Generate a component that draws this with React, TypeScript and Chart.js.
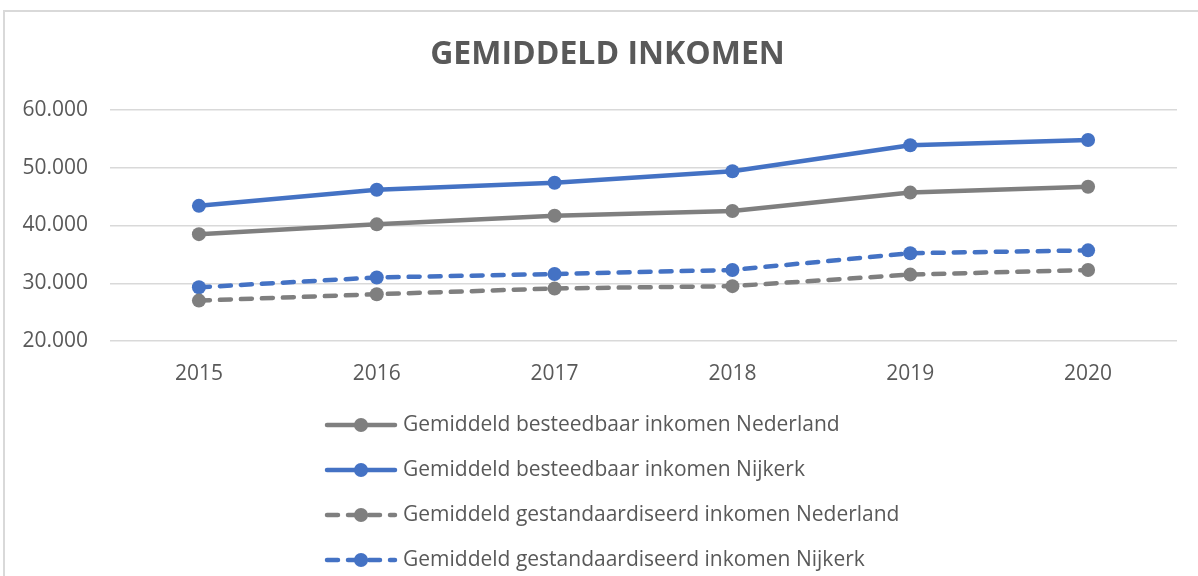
import React, { useEffect, useRef } from "react";
import { Chart, registerables } from "chart.js";

Chart.register(...registerables);

const years = ["2015", "2016", "2017", "2018", "2019", "2020"];
const besteedbaarNederland = [38500, 40200, 41700, 42500, 45700, 46700];
const besteedbaarNijkerk = [43400, 46200, 47400, 49400, 53900, 54800];
const gestandaardiseerdNederland = [27000, 28100, 29100, 29500, 31500, 32300];
const gestandaardiseerdNijkerk = [29300, 31000, 31600, 32300, 35200, 35700];
const seriesNames = [
  "Gemiddeld besteedbaar inkomen Nederland",
  "Gemiddeld besteedbaar inkomen Nijkerk",
  "Gemiddeld gestandaardiseerd inkomen Nederland",
  "Gemiddeld gestandaardiseerd inkomen Nijkerk",
];
const yMin = 20000;
const yMax = 60000;
const yStep = 10000;
const titleText = "GEMIDDELD INKOMEN";

const GREY = "#7f7f7f";
const BLUE = "#4472c4";
const TEXT = "#595959";
const GRID = "#d9d9d9";
const FONT = "'Open Sans', sans-serif";
const DASH = [11, 10];

function fmt(v: number): string {
  return String(v).replace(/\B(?=(\d{3})+(?!\d))/g, ".");
}

const framePlugin = {
  id: "frame",
  afterLayout(chart: any) {
    // let the y tick labels use the space left of the axis box (no clipping)
    if (chart.scales.y) chart.scales.y.left = 0;
  },
  beforeDraw(chart: any) {
    const ctx = chart.ctx;
    ctx.save();
    ctx.strokeStyle = GRID;
    ctx.lineWidth = 2;
    ctx.beginPath();
    ctx.moveTo(4, chart.height);
    ctx.lineTo(4, 11);
    ctx.lineTo(chart.width, 11);
    ctx.stroke();
    ctx.restore();
  },
};

const verticalLegend = {
  id: "verticalLegend",
  afterDraw(chart: any) {
    const ctx = chart.ctx;
    const area = chart.chartArea;
    const datasets = chart.data.datasets;
    ctx.save();
    ctx.font = `21px ${FONT}`;
    const widths = datasets.map((d: any) => ctx.measureText(d.label).width);
    const sample = 72;
    const gap = 6;
    const blockW = sample + gap + Math.max(...widths);
    const center = (38 + chart.width - 21) / 2 + 5;
    const left = Math.round(center - blockW / 2);
    datasets.forEach((d: any, i: number) => {
      const y = area.bottom + 84 + i * 45;
      ctx.strokeStyle = d.borderColor;
      ctx.lineWidth = d.borderWidth;
      ctx.lineCap = "round";
      ctx.setLineDash(d.borderDash || []);
      ctx.beginPath();
      ctx.moveTo(left + 2, y);
      ctx.lineTo(left + sample - 2, y);
      ctx.stroke();
      ctx.setLineDash([]);
      ctx.fillStyle = d.pointBackgroundColor;
      ctx.beginPath();
      ctx.arc(left + sample / 2, y, d.pointRadius, 0, Math.PI * 2);
      ctx.fill();
      ctx.fillStyle = TEXT;
      ctx.textBaseline = "middle";
      ctx.textAlign = "left";
      ctx.fillText(d.label, left + sample + gap, y);
    });
    ctx.restore();
  },
};

function makeDataset(label: string, data: number[], color: string, dashed: boolean) {
  return {
    label,
    data,
    borderColor: color,
    backgroundColor: color,
    pointBackgroundColor: color,
    pointBorderColor: color,
    pointBorderWidth: 0,
    pointRadius: 7,
    pointHoverRadius: 7,
    borderWidth: 4.5,
    borderDash: dashed ? DASH : [],
    borderCapStyle: "round" as const,
    borderJoinStyle: "round" as const,
    tension: 0,
    fill: false,
  };
}

export default function App() {
  const ref = useRef<HTMLCanvasElement | null>(null);
  useEffect(() => {
    if (!ref.current) return;
    const chart = new Chart(ref.current, {
      type: "line",
      data: {
        labels: years,
        datasets: [
          makeDataset(seriesNames[0], besteedbaarNederland, GREY, false),
          makeDataset(seriesNames[1], besteedbaarNijkerk, BLUE, false),
          makeDataset(seriesNames[2], gestandaardiseerdNederland, GREY, true),
          makeDataset(seriesNames[3], gestandaardiseerdNijkerk, BLUE, true),
        ],
      },
      options: {
        responsive: false,
        animation: false,
        events: [],
        layout: { padding: { left: 38, right: 21, top: 36, bottom: 180 } },
        plugins: {
          legend: { display: false },
          tooltip: { enabled: false },
          title: {
            display: true,
            text: titleText,
            color: TEXT,
            font: { family: FONT, size: 32, weight: "bold", lineHeight: 1.2 },
            padding: { top: 0, bottom: 110 - 36 - 38.4 },
          },
        },
        scales: {
          x: {
            offset: true,
            grid: { display: false, drawTicks: false },
            border: { display: false },
            ticks: { color: TEXT, font: { family: FONT, size: 21 }, padding: 20 },
            afterFit: (s: any) => {
              s.height = 55;
            },
          },
          y: {
            min: yMin,
            max: yMax,
            grid: { color: GRID, lineWidth: 1.5, drawTicks: false },
            border: { display: false },
            ticks: {
              stepSize: yStep,
              color: TEXT,
              font: { family: FONT, size: 21 },
              padding: 22,
              callback: (v: any) => fmt(Number(v)),
            },
            afterFit: (s: any) => {
              s.width = 72;
            },
          },
        },
      },
      plugins: [framePlugin, verticalLegend],
    });
    return () => chart.destroy();
  }, []);
  return (
    <div style={{ position: "fixed", left: 0, top: 0, width: 1198, height: 576, background: "#fff" }}>
      <canvas ref={ref} width={1198} height={576} style={{ display: "block" }} />
    </div>
  );
}
